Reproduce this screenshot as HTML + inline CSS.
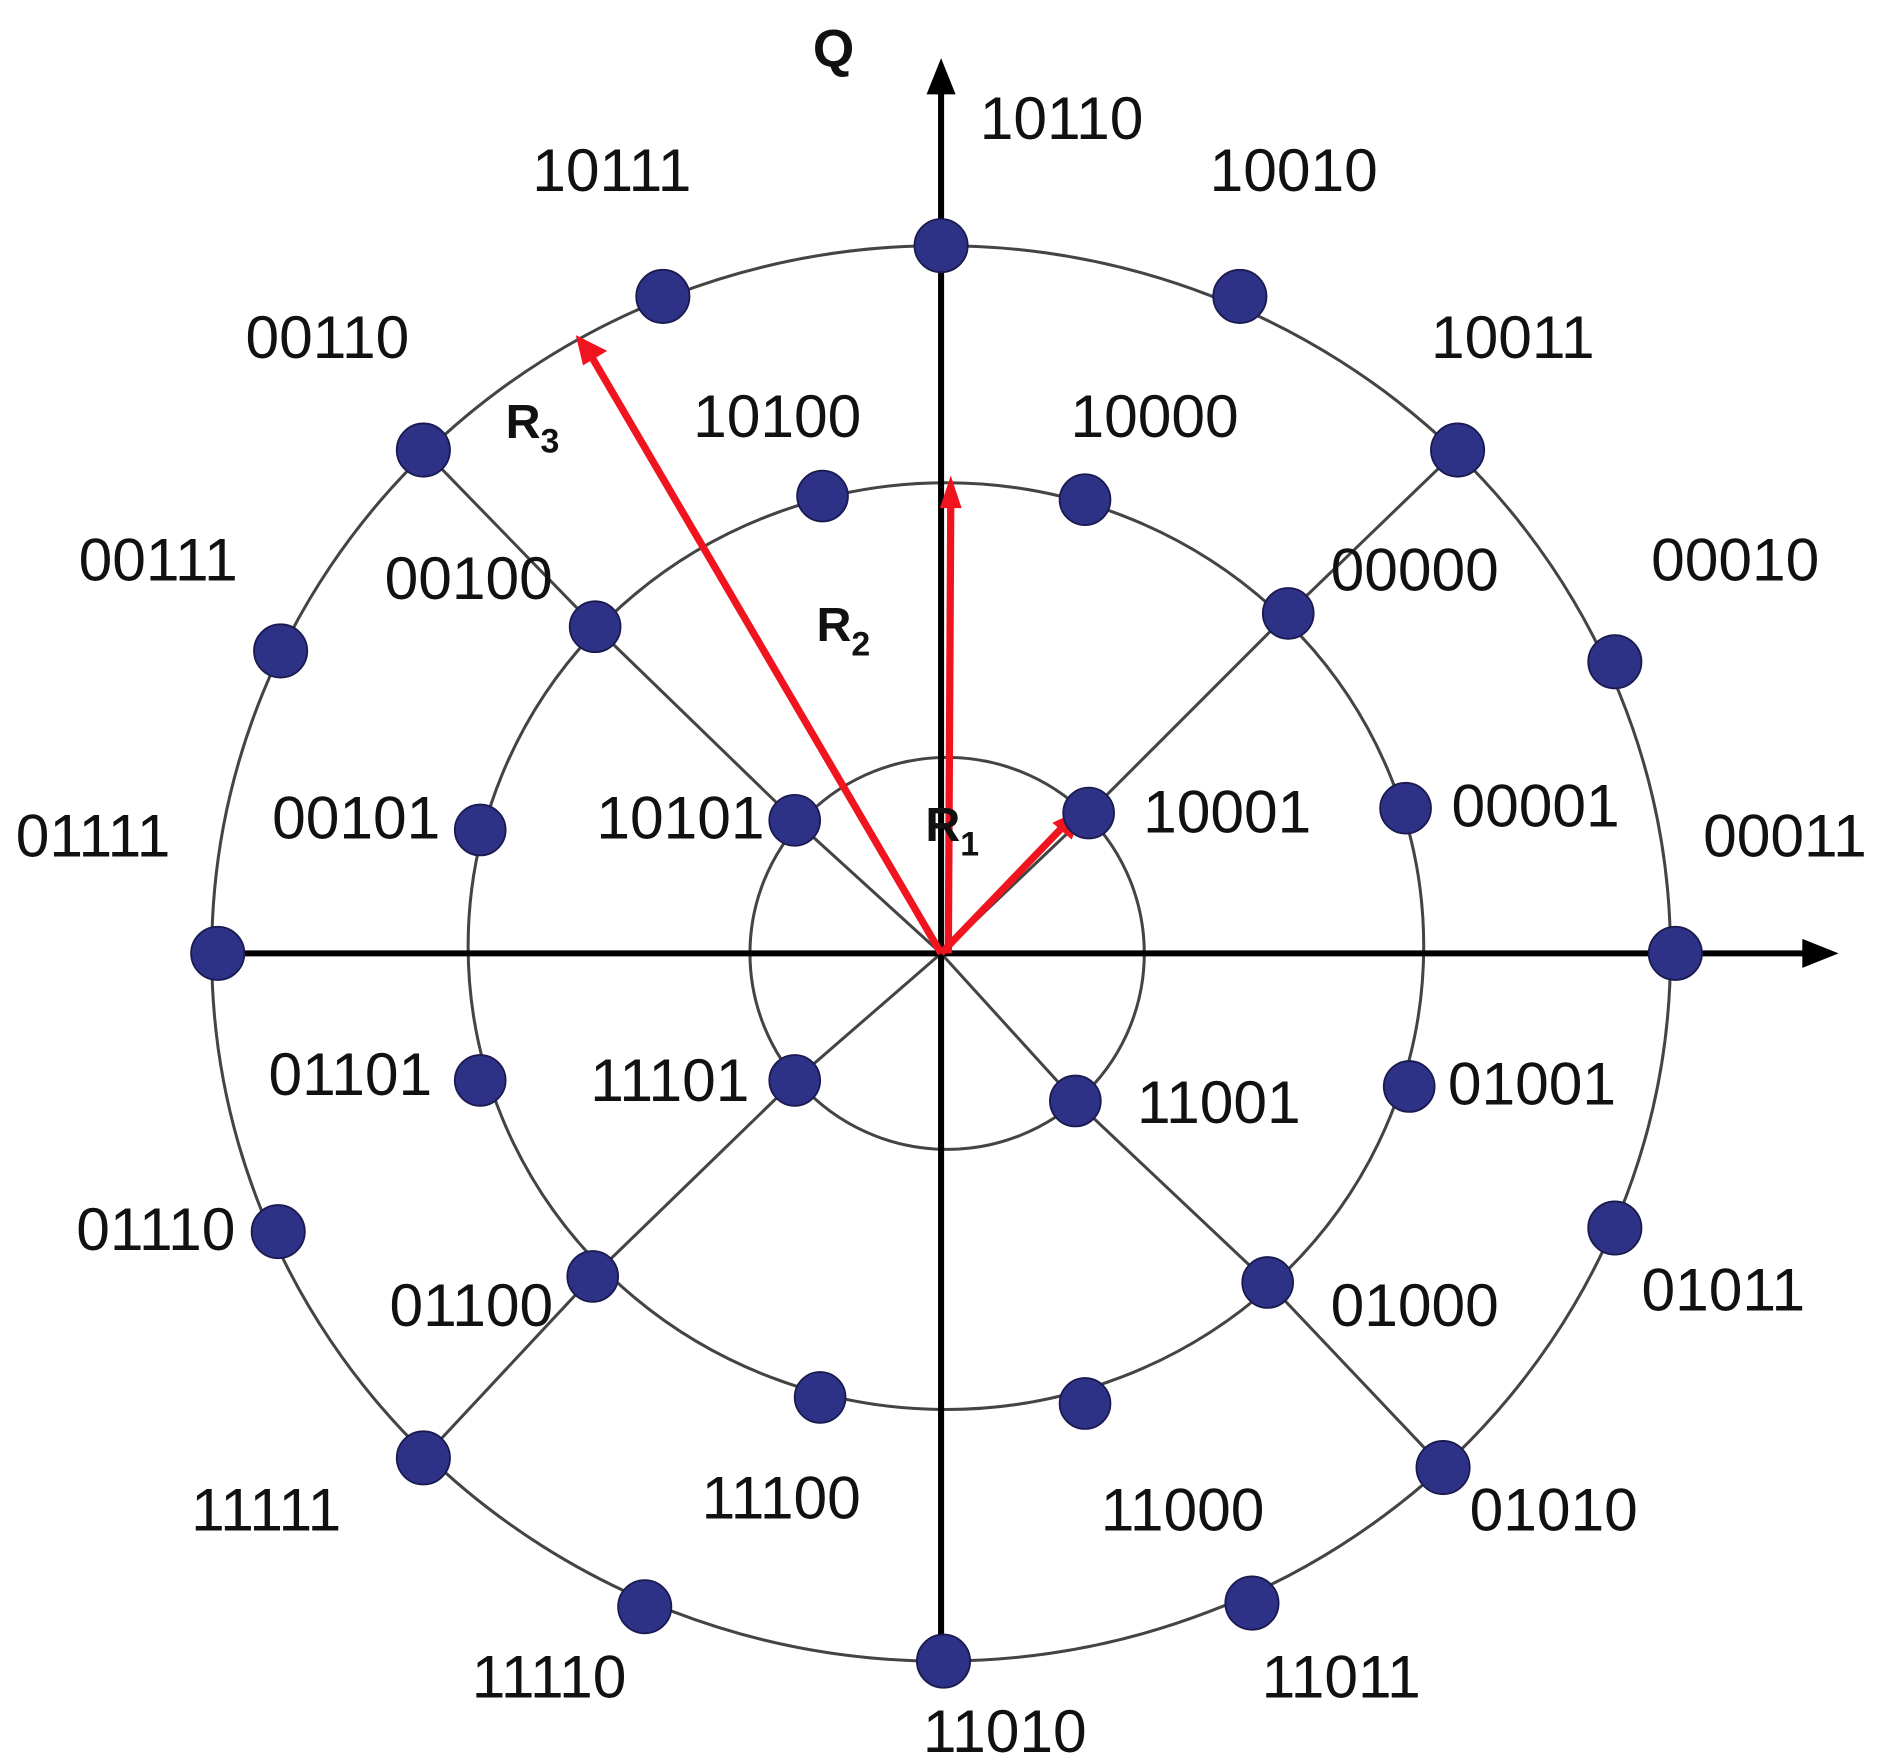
<!DOCTYPE html>
<html><head><style>html,body{margin:0;padding:0;background:#fff}svg{display:block}</style></head><body>
<svg width="1887" height="1764" viewBox="0 0 1560 1458" preserveAspectRatio="none" xmlns="http://www.w3.org/2000/svg">
<defs>
<marker id="ar" markerWidth="8" markerHeight="8" refX="6" refY="4" orient="auto" markerUnits="userSpaceOnUse" viewBox="0 0 8 8"><path d="M0,0 L8,4 L0,8 z" fill="#000"/></marker>
</defs>
<g fill="none" stroke="#444" stroke-width="2.5">
<ellipse cx="778" cy="788" rx="603" ry="585"/>
<ellipse cx="782" cy="782" rx="395" ry="383"/>
<ellipse cx="783" cy="788" rx="163" ry="162"/>
<polyline points="350,372 492,518 657,678 778,788"/>
<polyline points="1205,372 1065,507 900,672 778,788"/>
<polyline points="1193,1213 1048,1060 889,910 778,788"/>
<polyline points="350,1205 490,1055 657,893 778,788"/>
</g>
<g stroke="#000" stroke-width="5">
<line x1="160" y1="788" x2="1495" y2="788"/>
<line x1="778" y1="1395" x2="778" y2="75"/>
</g>
<path d="M1490,776 L1520,788 L1490,800 z" fill="#000"/>
<path d="M766,78 L778,48 L790,78 z" fill="#000"/>
<g stroke="#f0141e" stroke-width="6" fill="#f0141e">
<line x1="778" y1="788" x2="488" y2="293"/>
<line x1="784" y1="788" x2="786" y2="415"/>
<line x1="778" y1="788" x2="880" y2="682"/>
</g>
<g fill="#f0141e">
<path d="M476,277 L502,290 L482,302 z"/>
<path d="M777,420 L786,393 L795,420 z"/>
<path d="M896,668 L886,694 L870,680 z"/>
</g>
<g fill="#2e3287" stroke="#1a1a50" stroke-width="1.5">
<circle cx="778" cy="203" r="22"/><circle cx="1025" cy="245" r="22"/><circle cx="1205" cy="372" r="22"/><circle cx="1335" cy="547" r="22"/><circle cx="1385" cy="788" r="22"/><circle cx="1335" cy="1015" r="22"/><circle cx="1193" cy="1213" r="22"/><circle cx="1035" cy="1325" r="22"/><circle cx="780" cy="1373" r="22"/><circle cx="533" cy="1328" r="22"/><circle cx="350" cy="1205" r="22"/><circle cx="230" cy="1018" r="22"/><circle cx="180" cy="788" r="22"/><circle cx="232" cy="538" r="22"/><circle cx="350" cy="372" r="22"/><circle cx="548" cy="245" r="22"/>
<circle cx="680" cy="410" r="21"/><circle cx="897" cy="413" r="21"/><circle cx="1065" cy="507" r="21"/><circle cx="1162" cy="668" r="21"/><circle cx="1165" cy="898" r="21"/><circle cx="1048" cy="1060" r="21"/><circle cx="897" cy="1160" r="21"/><circle cx="678" cy="1155" r="21"/><circle cx="490" cy="1055" r="21"/><circle cx="397" cy="893" r="21"/><circle cx="397" cy="686" r="21"/><circle cx="492" cy="518" r="21"/>
<circle cx="657" cy="678" r="21"/><circle cx="900" cy="672" r="21"/><circle cx="889" cy="910" r="21"/><circle cx="657" cy="893" r="21"/>
</g>
<g font-family="Liberation Sans, sans-serif" font-size="50" fill="#111">
<text x="810" y="115">10110</text><text x="440" y="158">10111</text><text x="1000" y="158">10010</text>
<text x="203" y="296">00110</text><text x="1183" y="296">10011</text>
<text x="573" y="361">10100</text><text x="885" y="361">10000</text>
<text x="65" y="480">00111</text><text x="318" y="495">00100</text><text x="1100" y="488">00000</text><text x="1365" y="480">00010</text>
<text x="13" y="708">01111</text><text x="225" y="693">00101</text><text x="493" y="693">10101</text><text x="945" y="688">10001</text><text x="1200" y="683">00001</text><text x="1408" y="708">00011</text>
<text x="222" y="905">01101</text><text x="488" y="910">11101</text><text x="940" y="928">11001</text><text x="1197" y="913">01001</text>
<text x="63" y="1033">01110</text><text x="322" y="1096">01100</text><text x="1100" y="1096">01000</text><text x="1357" y="1083">01011</text>
<text x="158" y="1265">11111</text><text x="580" y="1255">11100</text><text x="910" y="1265">11000</text><text x="1215" y="1265">01010</text>
<text x="390" y="1403">11110</text><text x="1043" y="1403">11011</text><text x="763" y="1448">11010</text>
</g>
<g font-family="Liberation Sans, sans-serif" font-weight="bold" fill="#111">
<text x="672" y="55" font-size="44">Q</text>
<text x="418" y="362" font-size="40">R<tspan font-size="28" dy="12">3</tspan></text>
<text x="675" y="530" font-size="40">R<tspan font-size="28" dy="12">2</tspan></text>
<text x="765" y="695" font-size="40">R<tspan font-size="28" dy="12">1</tspan></text>
</g>
</svg>
</body></html>
